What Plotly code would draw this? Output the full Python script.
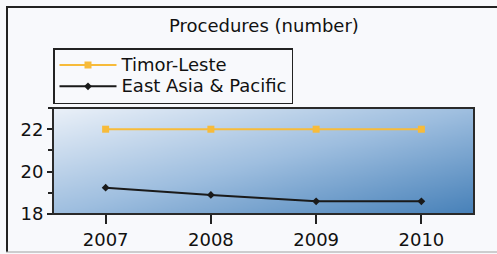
import plotly.graph_objects as go
import numpy as np

years = [2007, 2008, 2009, 2010]
timor_leste = [22, 22, 22, 22]
east_asia = [19.24, 18.9, 18.6, 18.6]
series_names = ["Timor-Leste", "East Asia & Pacific"]
title_text = "Procedures (number)"

W, H = 497, 254
L, R, T, B = 53, 23, 108, 40
pw, ph = W - L - R, H - T - B

# background gradient (styling only)
nx, ny = 80, 30
gx = np.linspace(2006.5, 2010.5, nx)
gy = np.linspace(18, 23, ny)
u = (gx - 2006.5) / 4.0
v = (23 - gy) / 5.0
z = (u[None, :] + v[:, None]) / 2.0

def leg_name(s):
    return '<span style="font-size:18px">' + s.replace("&", "&amp;") + "</span>"

fig = go.Figure()
fig.add_trace(go.Heatmap(
    x=gx, y=gy, z=z, zmin=0, zmax=1, showscale=False, hoverinfo="skip",
    zsmooth="best",
    colorscale=[[0, "#eaf0f8"], [0.5, "#9ebedf"], [1, "#4680b8"]],
    showlegend=False,
))
fig.add_trace(go.Scatter(
    x=years, y=timor_leste, name=leg_name(series_names[0]), mode="lines+markers",
    line=dict(color="#f7bb3a", width=2),
    marker=dict(symbol="square", size=7, color="#f7bb3a"),
))
fig.add_trace(go.Scatter(
    x=years, y=east_asia, name=leg_name(series_names[1]), mode="lines+markers",
    line=dict(color="#1a1a1a", width=2),
    marker=dict(symbol="diamond", size=6, color="#1a1a1a"),
))

def px_x(p):
    return (p - L) / pw

def px_y(p):
    return (H - B - p) / ph

shapes = [
    dict(type="line", xref="paper", yref="paper", x0=px_x(7), x1=px_x(7), y0=px_y(6), y1=px_y(252),
         line=dict(color="#222222", width=2)),
    dict(type="line", xref="paper", yref="paper", x0=px_x(6), x1=px_x(500), y0=px_y(7), y1=px_y(7),
         line=dict(color="#222222", width=2)),
    dict(type="line", xref="paper", yref="paper", x0=px_x(6), x1=px_x(500), y0=px_y(252), y1=px_y(252),
         line=dict(color="#a0a0a0", width=1)),
    dict(type="rect", xref="paper", yref="paper", x0=0, x1=1, y0=0, y1=1,
         line=dict(color="#2a2a2a", width=2)),
]

font = "DejaVu Sans, Verdana, sans-serif"
fig.update_layout(
    width=W, height=H,
    margin=dict(l=L, r=R, t=T, b=B, autoexpand=False),
    paper_bgcolor="#f8f9fc", plot_bgcolor="#f8f9fc",
    shapes=shapes,
    showlegend=True,
    legend=dict(
        x=px_x(53), y=px_y(48), xanchor="left", yanchor="top",
        bgcolor="rgba(0,0,0,0)", bordercolor="#222222", borderwidth=1.5,
        font=dict(family=font, size=14, color="#111111"),
        tracegroupgap=0, itemwidth=57,
    ),
    annotations=[dict(
        text=title_text, x=0.5, xref="paper", y=px_y(25), yref="paper",
        yanchor="middle", xanchor="center",
        showarrow=False, font=dict(family=font, size=18, color="#111111"),
    )],
    xaxis=dict(
        range=[2006.5, 2010.5], tickvals=years, ticktext=[str(y) for y in years],
        ticks="outside", ticklen=9, tickwidth=2, tickcolor="#222222",
        showgrid=False, zeroline=False, showline=False,
        tickfont=dict(family=font, size=18, color="#111111"),
    ),
    yaxis=dict(
        range=[18, 23], tickvals=[18, 20, 22],
        ticks="outside", ticklen=5, tickwidth=2, tickcolor="#222222",
        minor=dict(tickvals=[19, 21, 23], ticks="outside", ticklen=4, tickcolor="#222222", tickwidth=2),
        showgrid=False, zeroline=False, showline=False,
        tickfont=dict(family=font, size=18, color="#111111"),
    ),
)

fig.write_html(
    "out.html",
    config={"displayModeBar": False},
    post_script="document.body.style.margin='0';document.body.style.overflow='hidden';",
)
